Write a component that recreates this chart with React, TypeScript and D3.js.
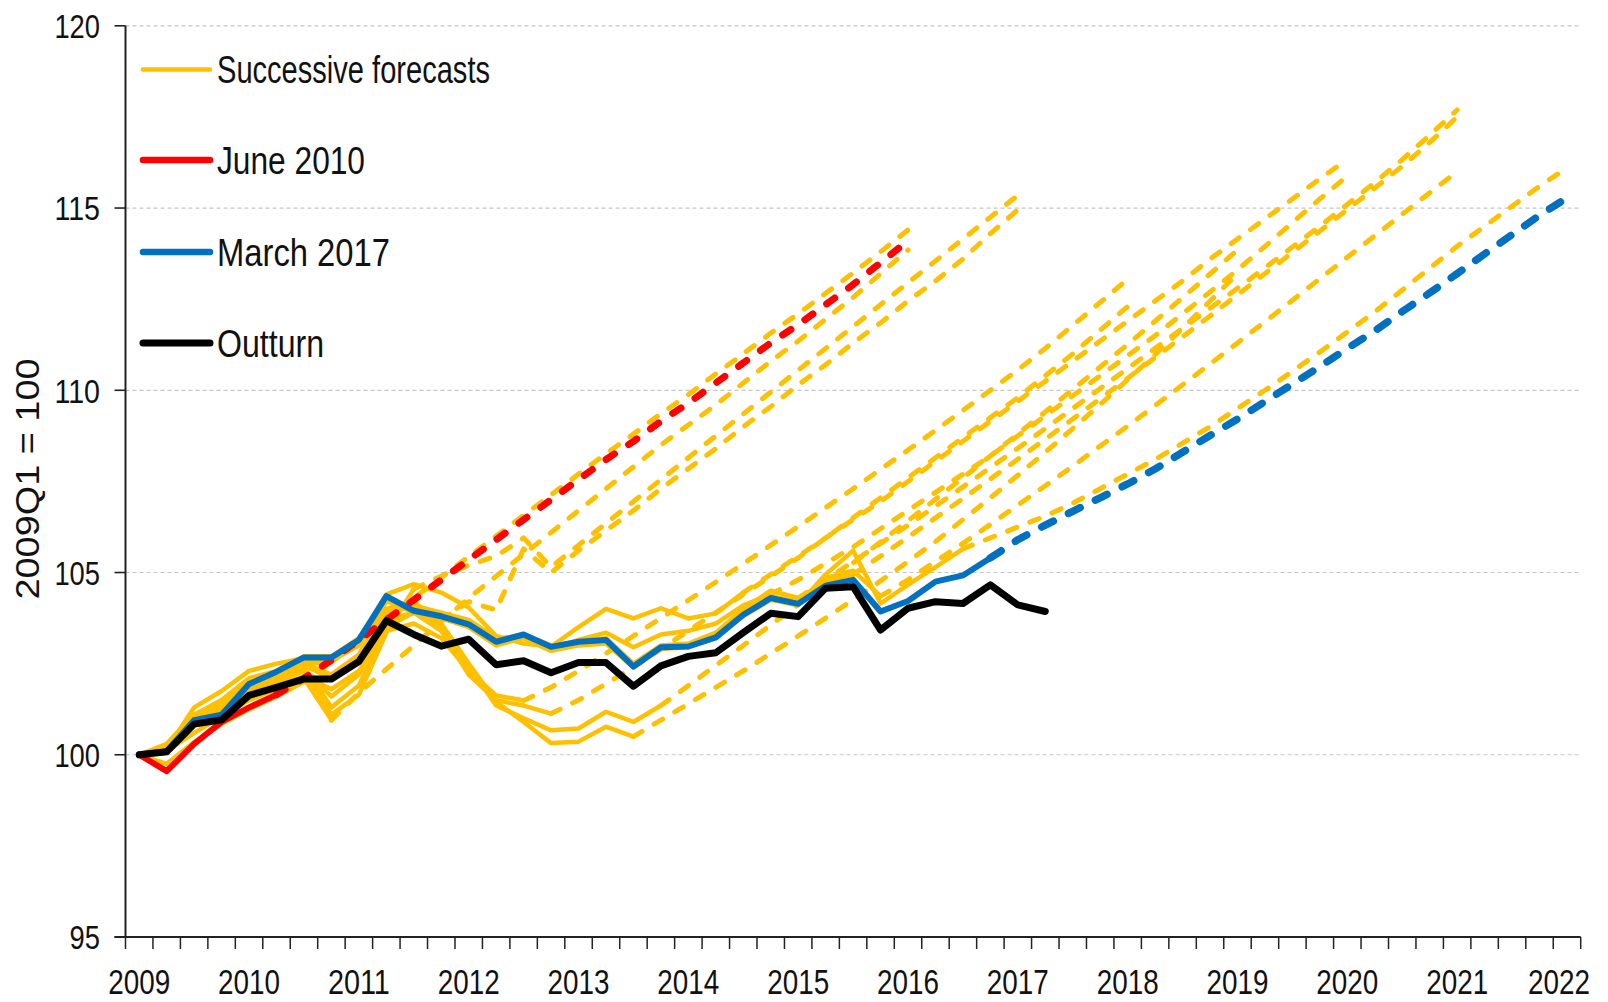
import React from 'react';
import * as d3 from 'd3';

// ---------- categories ----------
const years = [2009, 2010, 2011, 2012, 2013, 2014, 2015, 2016, 2017, 2018, 2019, 2020, 2021, 2022];
const quarters: string[] = years.flatMap((yr) => ['Q1', 'Q2', 'Q3', 'Q4'].map((q) => `${yr}${q}`)).slice(0, 53);
const yTicks = [95, 100, 105, 110, 115, 120];
const gridValues = [100, 105, 110, 115, 120];

// ---------- series (index 0 = 2009Q1) ----------
const outturn = [100, 100.08, 100.84, 100.96, 101.63, 101.85, 102.08, 102.08, 102.56, 103.68, 103.3, 102.98, 103.17, 102.47, 102.58, 102.25, 102.53, 102.53, 101.88, 102.44, 102.7, 102.8, 103.35, 103.88, 103.79, 104.57, 104.61, 103.42, 104.02, 104.2, 104.15, 104.66, 104.11, 103.93];

const june2010 = [100, 99.55, 100.3, 100.9, 101.3, 101.65, 102.1, 102.6, 103.15, 103.7, 104.25, 104.8, 105.35, 105.9, 106.45, 107.0, 107.55, 108.1, 108.6, 109.15, 109.65, 110.2, 110.75, 111.3, 111.8, 112.35, 112.9, 113.5, 114.1];
const june2010Outturn = 5;

const march2017 = [100, 100.1, 100.95, 101.1, 101.94, 102.28, 102.67, 102.67, 103.15, 104.35, 103.95, 103.8, 103.58, 103.1, 103.3, 102.96, 103.1, 103.15, 102.42, 102.95, 102.97, 103.22, 103.84, 104.3, 104.14, 104.64, 104.8, 103.93, 104.22, 104.75, 104.92, 105.4, 105.9, 106.3, 106.68, 107.05, 107.43, 107.84, 108.3, 108.76, 109.21, 109.69, 110.17, 110.65, 111.15, 111.63, 112.16, 112.67, 113.2, 113.74, 114.27, 114.8, 115.28];
const march2017Outturn = 31;

const nov2010 = [100, 99.75, 100.35, 100.85, 101.25, 101.6, 102.0, 102.55, 103.15, 103.72, 104.3, 104.87, 105.44, 106.0, 106.57, 107.13, 107.7, 108.26, 108.8, 109.36, 109.88, 110.45, 111.0, 111.57, 112.1, 112.66, 113.22, 113.8, 114.4];
const mar2011 = [100, 100.1, 100.6, 101.05, 101.5, 101.8, 102.1, 100.95, 101.7, 102.35, 103.0, 103.65, 104.3, 104.9, 105.5, 106.1, 106.7, 107.3, 107.9, 108.5, 109.05, 109.6, 110.2, 110.8, 111.35, 111.95, 112.55, 113.2, 113.85];
const nov2011 = [100, 100.2, 100.85, 101.25, 101.85, 102.1, 102.35, 101.1, 101.65, 103.35, 104.55, 104.9, 105.2, 105.45, 105.95, 105.15, 105.75, 106.35, 106.95, 107.55, 108.15, 108.75, 109.35, 109.95, 110.55, 111.15, 111.75, 112.35, 112.95, 113.55, 114.15, 114.75, 115.35];
const mar2012 = [100, 100.2, 100.9, 101.3, 101.9, 102.15, 102.4, 101.3, 101.9, 103.5, 103.9, 103.7, 104.2, 103.97, 105.65, 105.0, 105.6, 106.15, 106.7, 107.3, 107.85, 108.4, 109.0, 109.55, 110.15, 110.7, 111.3, 111.85, 112.45, 113.0, 113.6, 114.3, 114.95];
const dec2012 = [100, 100.15, 100.8, 101.2, 101.6, 101.9, 102.15, 101.8, 102.3, 103.4, 103.6, 103.2, 102.3, 101.63, 101.49, 101.85, 102.3, 102.78, 103.26, 103.75, 104.24, 104.74, 105.24, 105.75, 106.26, 106.78, 107.3, 107.83, 108.36, 108.9, 109.45, 110.0, 110.56, 111.15, 111.78, 112.41, 113.05];
const mar2013 = [100, 100.2, 100.9, 101.35, 101.75, 102.0, 102.3, 101.6, 102.2, 103.7, 103.9, 103.4, 102.2, 101.5, 101.35, 101.13, 101.5, 101.95, 102.4, 102.9, 103.4, 103.9, 104.4, 104.9, 105.4, 105.95, 106.5, 107.05, 107.6, 108.15, 108.7, 109.25, 109.8, 110.4, 111.0, 111.65, 112.3];
const dec2013 = [100, 100.3, 101.1, 101.5, 102.1, 102.3, 102.5, 102.2, 102.75, 104.0, 104.2, 103.6, 102.5, 101.45, 100.9, 100.32, 100.36, 100.77, 100.5, 100.95, 101.4, 101.85, 102.3, 102.78, 103.26, 103.75, 104.25, 104.77, 105.3, 105.85, 106.45, 107.05, 107.67, 108.3, 108.95, 109.61, 110.29, 110.98, 111.7, 112.45, 113.2];
const mar2014 = [100, 100.25, 101.0, 101.4, 102.0, 102.2, 102.45, 102.1, 102.6, 103.9, 104.1, 103.5, 102.45, 101.35, 101.0, 100.67, 100.72, 101.18, 100.9, 101.35, 101.9, 102.45, 103.0, 103.56, 104.12, 104.69, 105.26, 105.84, 106.42, 107.01, 107.6, 108.2, 108.8, 109.41, 110.02, 110.64, 111.26, 111.9, 112.54, 113.19, 113.85];
const dec2014 = [100, 100.15, 101.3, 101.75, 102.3, 102.5, 102.65, 102.7, 103.1, 104.4, 104.68, 104.45, 104.04, 103.26, 103.05, 102.97, 103.5, 104.0, 103.74, 104.02, 103.74, 103.88, 104.45, 104.95, 105.45, 105.95, 106.45, 106.95, 107.5, 108.05, 108.6, 109.15, 109.7, 110.25, 110.8, 111.35, 111.9, 112.45, 113.0, 113.6, 114.15, 114.7, 115.25, 115.8, 116.34];
const mar2015 = [100, 100.1, 100.9, 101.2, 101.9, 102.2, 102.55, 102.6, 103.0, 104.2, 104.1, 103.9, 103.7, 103.2, 103.25, 102.9, 103.15, 103.35, 102.95, 103.3, 103.4, 103.6, 104.1, 104.4, 104.8, 105.25, 105.7, 106.2, 106.7, 107.2, 107.7, 108.2, 108.75, 109.3, 109.85, 110.4, 110.95, 111.5, 112.1, 112.7, 113.3, 113.95, 114.6, 115.25, 115.88];
const jul2015 = [100, 100.1, 101.0, 101.1, 101.95, 102.3, 102.7, 102.7, 103.2, 104.3, 104.0, 103.85, 103.6, 103.15, 103.3, 103.0, 103.1, 103.2, 102.5, 103.0, 103.05, 103.35, 104.0, 104.5, 104.3, 104.8, 105.3, 105.8, 106.3, 106.82, 107.35, 107.88, 108.41, 108.95, 109.5, 110.05, 110.6, 111.15, 111.7, 112.25, 112.8, 113.36, 113.93, 114.5, 115.1, 115.7, 116.33, 117.0, 117.69];
const nov2015 = [100, 100.05, 100.85, 101.0, 101.8, 102.1, 102.5, 102.55, 103.05, 104.25, 103.9, 103.75, 103.5, 103.0, 103.2, 102.85, 103.0, 103.05, 102.4, 102.9, 102.95, 103.2, 103.85, 104.3, 104.2, 104.75, 104.95, 105.45, 105.97, 106.5, 107.03, 107.57, 108.11, 108.66, 109.21, 109.77, 110.33, 110.9, 111.47, 112.04, 112.62, 113.2, 113.78, 114.37, 114.96, 115.55, 116.15, 116.8, 117.5];
const mar2016 = [100, 100.1, 100.9, 101.05, 101.9, 102.25, 102.6, 102.65, 103.1, 104.3, 103.95, 103.8, 103.55, 103.05, 103.25, 102.9, 103.05, 103.1, 102.45, 102.95, 103.0, 103.25, 103.9, 104.35, 104.2, 104.85, 105.05, 104.35, 104.8, 105.3, 105.8, 106.32, 106.85, 107.38, 107.92, 108.47, 109.02, 109.58, 110.15, 110.72, 111.3, 111.88, 112.47, 113.06, 113.65, 114.24, 114.83, 115.42, 116.0];
const nov2016 = [100, 100.1, 100.95, 101.1, 101.9, 102.25, 102.65, 102.65, 103.1, 104.3, 103.95, 103.8, 103.55, 103.1, 103.3, 102.95, 103.1, 103.15, 102.45, 102.95, 103.0, 103.2, 103.8, 104.25, 104.1, 104.95, 105.6, 104.15, 104.67, 105.15, 105.65, 105.95, 106.25, 106.55, 106.9, 107.3, 107.7, 108.1, 108.55, 109.0, 109.5, 110.0, 110.52, 111.05, 111.6, 112.15, 112.75, 113.35, 113.95, 114.5, 115.05, 115.6, 116.1];

const successiveForecasts = [nov2010, mar2011, nov2011, mar2012, dec2012, mar2013, dec2013, mar2014, dec2014, mar2015, jul2015, nov2015, mar2016, nov2016];
// last quarter of outturn data (index) in each forecast vintage
const successiveOutturnEnd = [6, 7, 10, 11, 14, 15, 18, 19, 22, 23, 24, 26, 27, 30];

const legendLabels = ['Successive forecasts', 'June 2010', 'March 2017', 'Outturn'];
const legendColors = ['#FFC000', '#FF0000', '#0070C0', '#000000'];

const FONT = '"Liberation Sans", Arial, sans-serif';

export default function App() {
  const W = 1608;
  const H = 1002;
  const left = 125.5;
  const right = 1580.7;
  const top = 25.8;
  const bottom = 937;

  const x = d3.scalePoint<string>().domain(quarters).range([left, right]).padding(0.5);
  const step = x.step();
  const y = d3.scaleLinear().domain([95, 120]).range([bottom, top]);

  const lineGen = d3
    .line<[number, number]>()
    .x((d) => x(quarters[d[0]]) as number)
    .y((d) => y(d[1]));

  const solidPath = (vals: number[], end: number) =>
    lineGen(vals.slice(0, end + 1).map((v, i) => [i, v] as [number, number])) || '';
  const dashPath = (vals: number[], start: number) =>
    lineGen(vals.slice(start).map((v, i) => [i + start, v] as [number, number])) || '';

  const orange = legendColors[0];
  const red = legendColors[1];
  const blue = legendColors[2];

  const tickBoundaries = d3.range(quarters.length + 1).map((k) => left + k * step);
  const labelQuarters = quarters.filter((q) => q.endsWith('Q1'));

  const legendY = [69.5, 160, 252, 343];
  const legendWidths = [4.5, 6.5, 6.5, 7];
  const legendTextLen = [273, 148, 173, 107];

  return (
    <svg
      width={W}
      height={H}
      viewBox={`0 0 ${W} ${H}`}
      style={{ position: 'absolute', left: 0, top: 0, display: 'block', background: '#fff' }}
    >
      <rect x={0} y={0} width={W} height={H} fill="#fff" />

      {/* grid */}
      {gridValues.map((v) => (
        <line
          key={`g${v}`}
          x1={left}
          x2={right}
          y1={y(v)}
          y2={y(v)}
          stroke="#c6c6c6"
          strokeWidth={1.2}
          strokeDasharray="4,3"
        />
      ))}

      {/* successive forecasts */}
      <g fill="none" stroke={orange} strokeLinejoin="round" strokeLinecap="round">
        {successiveForecasts.map((vals, k) => (
          <g key={`o${k}`}>
            <path d={solidPath(vals, successiveOutturnEnd[k])} strokeWidth={4.5} />
            <path d={dashPath(vals, successiveOutturnEnd[k])} strokeWidth={5} strokeDasharray="10,14" />
          </g>
        ))}
      </g>

      {/* June 2010 */}
      <g fill="none" stroke={red} strokeLinejoin="round" strokeLinecap="round">
        <path d={solidPath(june2010, june2010Outturn)} strokeWidth={6} />
        <path d={dashPath(june2010, june2010Outturn)} strokeWidth={7} strokeDasharray="10,17" />
      </g>

      {/* March 2017 */}
      <g fill="none" stroke={blue} strokeLinejoin="round" strokeLinecap="round">
        <path d={solidPath(march2017, march2017Outturn)} strokeWidth={6} />
        <path d={dashPath(march2017, march2017Outturn)} strokeWidth={7.5} strokeDasharray="13,17" />
      </g>

      {/* Outturn */}
      <path
        d={solidPath(outturn, outturn.length - 1)}
        fill="none"
        stroke="#000"
        strokeWidth={7}
        strokeLinejoin="round"
        strokeLinecap="round"
      />

      {/* y axis */}
      <line x1={left} x2={left} y1={top} y2={bottom} stroke="#222" strokeWidth={2} />
      {yTicks.map((v) => (
        <g key={`yt${v}`}>
          <line x1={left - 11} x2={left} y1={y(v)} y2={y(v)} stroke="#222" strokeWidth={1.6} />
          <text
            x={100}
            y={y(v) + 12.4}
            textAnchor="end"
            fontFamily={FONT}
            fontSize={34}
            fill="#111"
            textLength={String(v).length * 15.2}
            lengthAdjust="spacingAndGlyphs"
          >
            {v}
          </text>
        </g>
      ))}

      {/* x axis */}
      <line x1={left - 11} x2={right} y1={bottom} y2={bottom} stroke="#222" strokeWidth={2.2} />
      {tickBoundaries.map((tx, k) => (
        <line key={`xt${k}`} x1={tx} x2={tx} y1={bottom} y2={bottom + 12} stroke="#222" strokeWidth={1.5} />
      ))}
      {labelQuarters.map((q, k) => (
        <text
          key={`xl${q}`}
          x={Math.min(x(q) as number, 1559)}
          y={993.5}
          textAnchor="middle"
          fontFamily={FONT}
          fontSize={35}
          fill="#111"
          textLength={62}
          lengthAdjust="spacingAndGlyphs"
        >
          {q.slice(0, 4)}
        </text>
      ))}

      {/* y axis title */}
      <text
        transform="translate(39,479) rotate(-90)"
        textAnchor="middle"
        fontFamily={FONT}
        fontSize={34}
        fill="#111"
        textLength={241}
        lengthAdjust="spacingAndGlyphs"
      >
        2009Q1 = 100
      </text>

      {/* legend */}
      {legendLabels.map((lab, k) => (
        <g key={`lg${k}`}>
          <line
            x1={143}
            x2={210}
            y1={legendY[k]}
            y2={legendY[k]}
            stroke={legendColors[k]}
            strokeWidth={legendWidths[k]}
            strokeLinecap="round"
          />
          <text
            x={217}
            y={legendY[k] + 13.5}
            fontFamily={FONT}
            fontSize={38}
            fill="#111"
            textLength={legendTextLen[k]}
            lengthAdjust="spacingAndGlyphs"
          >
            {lab}
          </text>
        </g>
      ))}
    </svg>
  );
}
